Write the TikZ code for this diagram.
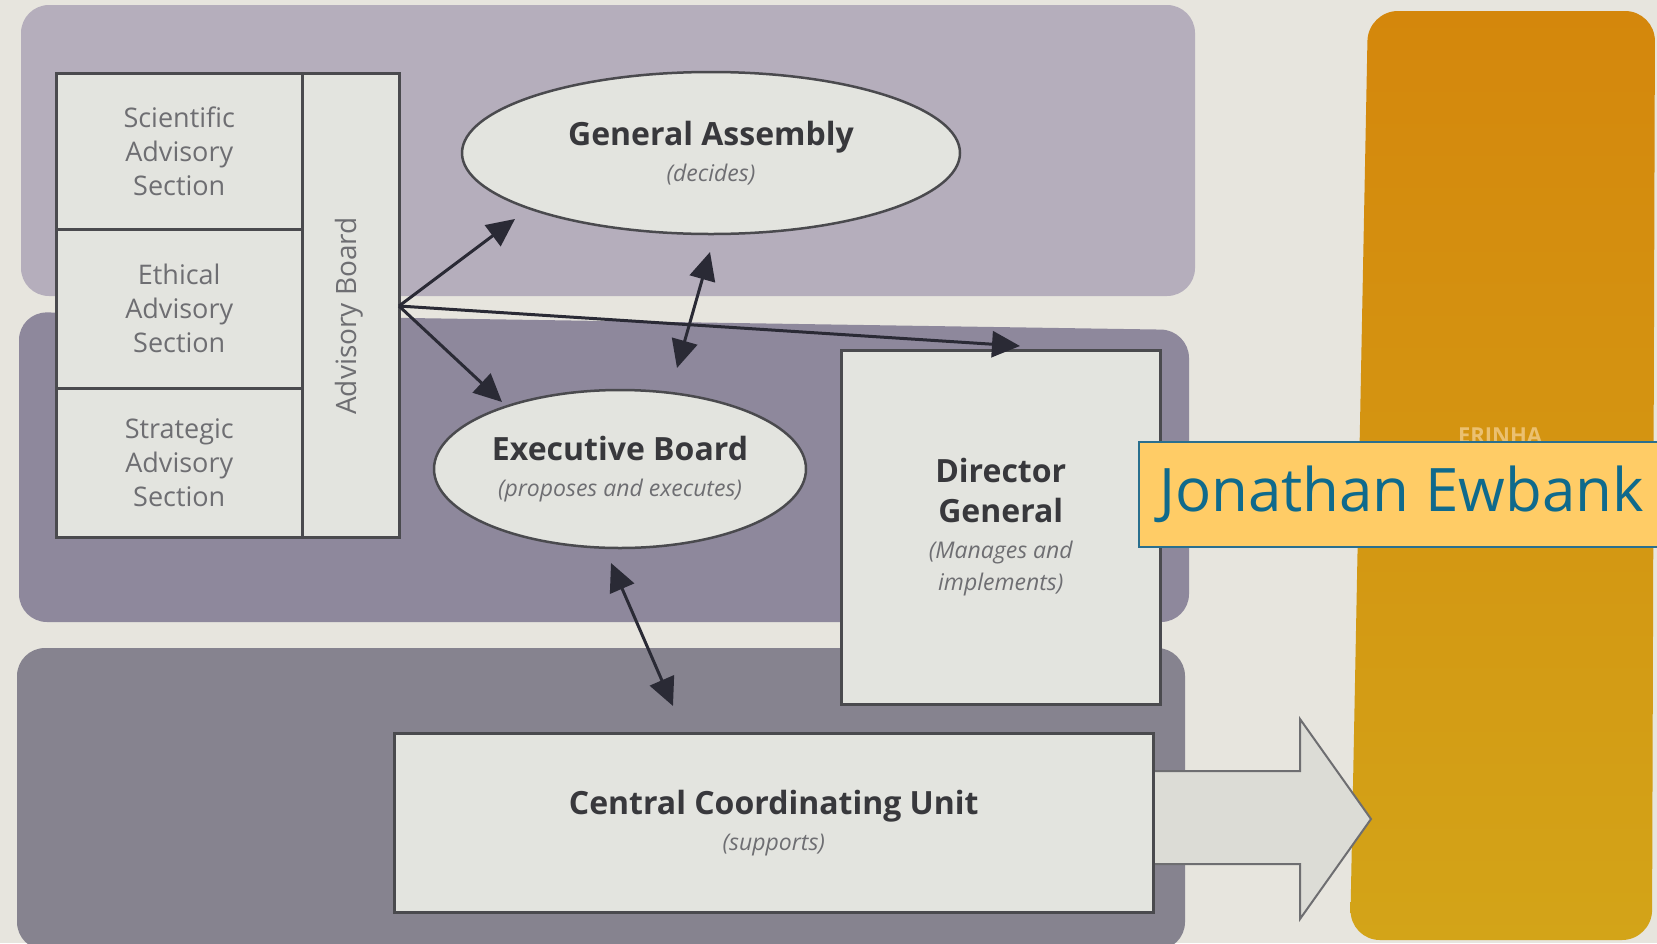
\documentclass[tikz,border=0pt]{standalone}
\usepackage{fontspec}
\setmainfont{Open Sans}
\usetikzlibrary{arrows.meta,shapes.geometric,calc}
\definecolor{bgc}{HTML}{E7E5DE}
\definecolor{topband}{HTML}{B5AEBC}
\definecolor{midband}{HTML}{8E889C}
\definecolor{botband}{HTML}{86838F}
\definecolor{boxfill}{HTML}{E3E4DF}
\definecolor{boxline}{HTML}{4A4A4E}
\definecolor{txtdark}{HTML}{38383C}
\definecolor{txtsub}{HTML}{6E6E72}
\definecolor{arrowc}{HTML}{2A2A35}
\definecolor{orangetop}{HTML}{D4870C}
\definecolor{orangebot}{HTML}{D3A418}
\definecolor{jfill}{HTML}{FFCC66}
\definecolor{jline}{HTML}{2A6F8E}
\definecolor{jtext}{HTML}{0F6A8C}
\definecolor{bigarrowfill}{HTML}{DCDCD6}
\definecolor{erinha}{HTML}{EBC070}
\tikzset{
  secbox/.style={draw=boxline, line width=2.5pt, fill=boxfill, align=center,
    inner sep=0pt, text=txtsub, font=\fontsize{27}{34}\selectfont},
  boxnode/.style={draw=boxline, line width=2.5pt, fill=boxfill, align=center,
    inner sep=0pt, font=\fontsize{24}{36}\selectfont},
  ellnode/.style={ellipse, draw=boxline, line width=2.5pt, fill=boxfill,
    align=center, inner sep=0pt, font=\fontsize{24}{36}\selectfont},
  conn/.style={draw=arrowc, line width=3pt, -{Triangle[length=28pt,width=26pt]}},
  dconn/.style={draw=arrowc, line width=3pt,
    {Triangle[length=28pt,width=26pt]}-{Triangle[length=28pt,width=26pt]}},
}
\newcommand{\subtxt}[1]{{\itshape\fontsize{23}{36}\selectfont\color{txtsub}#1}}
\newcommand{\boldtxt}[1]{{\bfseries\fontsize{32}{36}\selectfont\color{txtdark}#1}}
\begin{document}
\begin{tikzpicture}[x=1pt,y=-1pt]
\useasboundingbox (0,0) rectangle (1657,943);
\fill[bgc] (0,0) rectangle (1657,943);
% bands
\fill[topband, rounded corners=28pt] (21,5) rectangle (1195,296);
\fill[midband, rounded corners=28pt] (19,312) -- (1189,330) -- (1189,622) -- (19,622) -- cycle;
\fill[botband, rounded corners=28pt] (17,648) -- (1185,648) -- (1185,950) -- (17,950) -- cycle;
% orange bar
\shade[top color=orangetop, bottom color=orangebot, rounded corners=30pt]
  (1368,11) -- (1655,11) -- (1652,940) -- (1350,940) -- cycle;
\node[font=\bfseries\fontsize{22}{26}\selectfont, text=erinha] (erinha) at (1500,436) {ERINHA};
% big arrow
\draw[fill=bigarrowfill, draw=boxline!80, line width=2pt]
  (1140,771) -- (1300,771) -- (1300,719) -- (1371,819) -- (1300,919) -- (1300,864) -- (1140,864);
% advisory sections
\node[secbox, minimum width=246pt, minimum height=156pt, anchor=north west] (sci) at (55,72) {Scientific\\Advisory\\Section};
\node[secbox, minimum width=246pt, minimum height=159pt, anchor=north west] (eth) at (55,228) {Ethical\\Advisory\\Section};
\node[secbox, minimum width=246pt, minimum height=149pt, anchor=north west] (str) at (55,387) {Strategic\\Advisory\\Section};
\node[secbox, minimum width=97pt, minimum height=464pt, anchor=north west] (ab) at (301,72) {};
\node[rotate=90, text=txtsub, font=\fontsize{28}{32}\selectfont, inner sep=0pt] (ablabel) at (349.5,316) {Advisory Board};
\coordinate (abpt) at (399,306);
% ellipses
\node[ellnode, minimum width=498pt, minimum height=162pt] (ga) at (711,153)
  {\boldtxt{General Assembly}\\\subtxt{(decides)}};
\node[ellnode, minimum width=372pt, minimum height=158pt] (eb) at (620,469)
  {\boldtxt{Executive Board}\\\subtxt{(proposes and executes)}};
% director general
\node[boxnode, minimum width=319pt, minimum height=354pt, anchor=north west] (dg) at (840,349)
  {\boldtxt{Director}\\[4pt]\boldtxt{General}\\\subtxt{(Manages and}\\[-4pt]\subtxt{implements)}};
% central coordinating unit
\node[boxnode, minimum width=759pt, minimum height=179pt, anchor=north west] (ccu) at (393,732)
  {\boldtxt{Central Coordinating Unit}\\\subtxt{(supports)}};
% connector end points
\coordinate (gatip) at (515,219);
\coordinate (ebtip) at (502,402);
\coordinate (dgtip) at (1020,346);
\coordinate (gab) at (710,252);
\coordinate (ebt) at (677,368);
\coordinate (ebb) at (611,563);
\coordinate (ccut) at (673,706);
\draw[conn] (abpt) -- (gatip);
\draw[conn] (abpt) -- (ebtip);
\draw[conn] (abpt) -- (dgtip);
\draw[dconn] (gab) -- (ebt);
\draw[dconn] (ebb) -- (ccut);
% name label
\node[draw=jline, line width=2pt, fill=jfill, minimum width=525pt, minimum height=105pt,
  anchor=west, inner sep=0pt, text=jtext, font=\fontsize{60}{66}\selectfont] (jname) at (1138,494.5)
  {Jonathan Ewbank};
\end{tikzpicture}
\end{document}
